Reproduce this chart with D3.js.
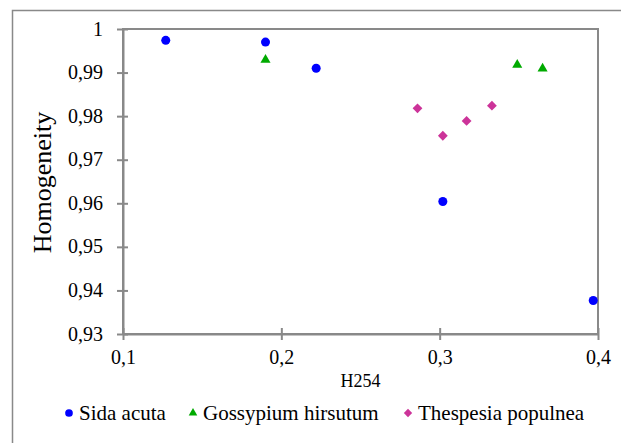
<!DOCTYPE html>
<html>
<head>
<meta charset="utf-8">
<script src="https://cdn.jsdelivr.net/npm/d3@7"></script>
<style>
  body { margin: 0; background: #fff; }
  svg { display: block; }
  svg text { font-family: "Times New Roman", "Liberation Serif", Times, serif; }
</style>
</head>
<body>
<script>
const sidaX = [0.127, 0.190, 0.222, 0.302, 0.397]
const sidaY = [0.9974, 0.9970, 0.9910, 0.9604, 0.9377]
const gossX = [0.190, 0.349, 0.365]
const gossY = [0.9929, 0.9918, 0.9909]
const thesX = [0.286, 0.302, 0.317, 0.333]
const thesY = [0.9818, 0.9755, 0.9789, 0.9824]
const xTicks = [0.1, 0.2, 0.3, 0.4]
const yTicks = [0.93, 0.94, 0.95, 0.96, 0.97, 0.98, 0.99, 1]
const seriesNames = ['Sida acuta', 'Gossypium hirsutum', 'Thespesia populnea']

const W = 621, H = 443
const grey = '#898989'
const comma = d3.formatLocale({ decimal: ',', thousands: '.', grouping: [3], currency: ['', ''] })
const fmt = comma.format('~r')

const svg = d3.select('body').append('svg').attr('width', W).attr('height', H)

// outer chart border (runs off the picture on the right and bottom)
svg.append('rect')
  .attr('x', 12.5).attr('y', 10.5).attr('width', 640).attr('height', 460)
  .attr('fill', 'none').attr('stroke', grey).attr('stroke-width', 1.5)

const x = d3.scaleLinear().domain([0.1, 0.4]).range([123, 598])
const y = d3.scaleLinear().domain([0.93, 1]).range([334, 29])

// plot frame
svg.append('rect')
  .attr('x', x(0.1)).attr('y', y(1))
  .attr('width', x(0.4) - x(0.1)).attr('height', y(0.93) - y(1))
  .attr('fill', 'none').attr('stroke', grey).attr('stroke-width', 2)

const yAxis = svg.append('g')
  .attr('transform', `translate(${x(0.1)},0)`)
  .call(d3.axisLeft(y).tickValues(yTicks).tickFormat(fmt).tickSize(6).tickSizeOuter(0).tickPadding(14))
  .attr('font-size', 20)
yAxis.select('.domain').attr('stroke', grey).attr('stroke-width', 2)
yAxis.selectAll('.tick line').attr('x1', 5).attr('stroke', grey).attr('stroke-width', 2)
yAxis.selectAll('.tick text').attr('dy', '0.3em').attr('fill', '#000')

const xAxis = svg.append('g')
  .attr('transform', `translate(0,${y(0.93)})`)
  .call(d3.axisBottom(x).tickValues(xTicks).tickFormat(fmt).tickSize(6).tickSizeOuter(0).tickPadding(10))
  .attr('font-size', 20)
xAxis.select('.domain').attr('stroke', grey).attr('stroke-width', 2)
xAxis.selectAll('.tick line').attr('y1', -6).attr('stroke', grey).attr('stroke-width', 2)
xAxis.selectAll('.tick text').attr('dy', '0.71em').attr('fill', '#000')

// axis titles
svg.append('text')
  .attr('x', (x(0.1) + x(0.4)) / 2).attr('y', 387)
  .attr('text-anchor', 'middle').attr('font-size', 18).text('H254')

svg.append('text')
  .attr('transform', 'translate(51,182.5) rotate(-90)')
  .attr('text-anchor', 'middle').attr('font-size', 26).text('Homogeneity')

const circle = d3.symbol(d3.symbolCircle, 64)()
const tri = d3.symbol(d3.symbolTriangle, 44)()
const diam = d3.symbol(d3.symbolSquare, 48)()

const series = [
  { xs: sidaX, ys: sidaY, path: circle, color: '#0000ff', rot: 0 },
  { xs: gossX, ys: gossY, path: tri, color: '#00aa00', rot: 0 },
  { xs: thesX, ys: thesY, path: diam, color: '#cc3399', rot: 45 }
]

series.forEach(s => {
  svg.append('g').selectAll('path')
    .data(d3.zip(s.xs, s.ys))
    .enter()
    .append('path')
    .attr('d', s.path)
    .attr('transform', d => `translate(${x(d[0])},${y(d[1])}) rotate(${s.rot})`)
    .attr('fill', s.color)
})

// legend
const legX = [69, 193, 408]
const leg = svg.append('g').selectAll('g')
  .data(series)
  .enter()
  .append('g')
  .attr('transform', (d, i) => `translate(${legX[i]},413)`)
leg.append('path')
  .attr('d', d => d.path)
  .attr('transform', d => `rotate(${d.rot}) scale(0.85)`)
  .attr('fill', d => d.color)
leg.append('text')
  .attr('x', 10).attr('y', 6.5)
  .attr('font-size', 21)
  .text((d, i) => seriesNames[i])
</script>
</body>
</html>
